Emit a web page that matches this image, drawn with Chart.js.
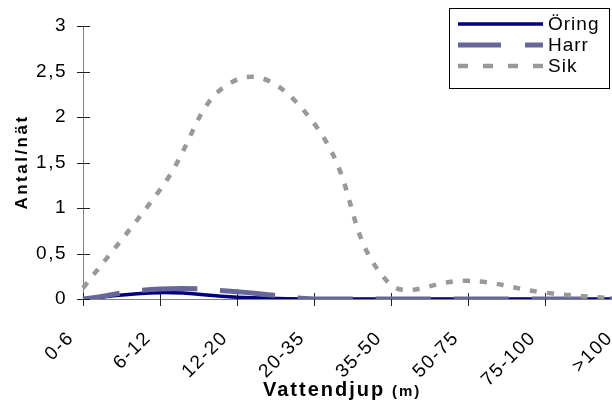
<!DOCTYPE html>
<html>
<head>
<meta charset="utf-8">
<script src="https://cdn.jsdelivr.net/npm/chart.js@4"></script>
<style>
  body { margin: 0; background: #fff; }
  #wrap { width: 612px; height: 400px; overflow: hidden; }
</style>
</head>
<body>
<div id="wrap"><canvas id="myChart" width="640" height="400"></canvas></div>
<script>
// Catch per net by depth class
const depths = ["0-6", "6-12", "12-20", "20-35", "35-50", "50-75", "75-100", ">100"];
const oring = [0, 0.07, 0.02, 0, 0, 0, 0, 0];
const harr = [0, 0.11, 0.08, 0, 0, 0, 0, 0];
const sik = [0.12, 1.2, 2.41, 1.93, 0.15, 0.2, 0.07, 0];

const FONT = "'Liberation Sans', Arial, sans-serif";

// cross tick marks, legend box and axis titles (drawn by hand like the Excel original)
const extras = {
  id: "extras",
  beforeDraw(chart) {
    chart.ctx.letterSpacing = "1.5px";
  },
  beforeDatasetsDraw(chart) {
    const ctx = chart.ctx;
    const x = chart.scales.x;
    const y = chart.scales.y;
    ctx.save();
    ctx.strokeStyle = "#222";
    ctx.lineWidth = 1;
    ctx.beginPath();
    for (let i = 0; i < x.ticks.length; i++) {
      const px = Math.round(x.getPixelForTick(i)) + 0.5;
      ctx.moveTo(px, y.bottom - 6);
      ctx.lineTo(px, y.bottom + 7);
    }
    for (let i = 0; i < y.ticks.length; i++) {
      const py = Math.round(y.getPixelForTick(i)) + 0.5;
      ctx.moveTo(x.left - 6, py);
      ctx.lineTo(x.left + 7, py);
    }
    ctx.stroke();
    ctx.restore();
  },
  afterDraw(chart) {
    const ctx = chart.ctx;
    ctx.save();

    // legend
    ctx.letterSpacing = "1px";
    ctx.strokeStyle = "#000";
    ctx.lineWidth = 1;
    ctx.strokeRect(449.5, 8.5, 160, 80);
    const rows = [24, 45, 66];
    chart.data.datasets.forEach((ds, i) => {
      ctx.save();
      ctx.strokeStyle = ds.borderColor;
      ctx.lineWidth = ds.borderWidth;
      ctx.setLineDash(ds.legendDash || []);
      ctx.beginPath();
      ctx.moveTo(458, rows[i]);
      ctx.lineTo(543, rows[i]);
      ctx.stroke();
      ctx.restore();
      ctx.fillStyle = "#000";
      ctx.font = "19px " + FONT;
      ctx.textBaseline = "middle";
      ctx.textAlign = "left";
      ctx.fillText(ds.label, 548, rows[i] + 1);
    });

    // x title
    ctx.fillStyle = "#000";
    ctx.textBaseline = "alphabetic";
    ctx.letterSpacing = "2px";
    ctx.font = "bold 20px " + FONT;
    ctx.fillText("Vattendjup", 263, 396);
    ctx.font = "bold 15px " + FONT;
    ctx.fillText("(m)", 392, 396);

    // y title
    ctx.translate(27, 162);
    ctx.rotate(-Math.PI / 2);
    ctx.textAlign = "center";
    ctx.letterSpacing = "2.5px";
    ctx.font = "bold 17px " + FONT;
    ctx.fillText("Antal/nät", 0, 0);
    ctx.restore();
  }
};

const ctx = document.getElementById("myChart").getContext("2d");
const chart = new Chart(ctx, {
  type: "line",
  data: {
    labels: depths,
    datasets: [
      {
        label: "Öring",
        data: oring,
        borderColor: "#000080",
        borderWidth: 3.5,
        order: 3,
      },
      {
        label: "Harr",
        data: harr,
        borderColor: "#666699",
        borderWidth: 5,
        borderDash: [55, 23],
        borderDashOffset: 18,
        legendDash: [43, 24],
        order: 2,
      },
      {
        label: "Sik",
        data: sik,
        borderColor: "#999999",
        borderWidth: 4.5,
        borderDash: [7, 10],
        legendDash: [10, 15],
        order: 1,
      },
    ],
  },
  options: {
    responsive: false,
    animation: false,
    layout: { padding: { top: 26, right: 18, left: 0, bottom: 0 } },
    elements: {
      point: { radius: 0 },
      line: { tension: 0.45, fill: false },
    },
    plugins: {
      legend: { display: false },
      tooltip: { enabled: false },
    },
    scales: {
      x: {
        offset: false,
        grid: { display: true, drawOnChartArea: false, drawTicks: false },
        border: { color: "#808080" },
        ticks: {
          autoSkip: false,
          minRotation: 45,
          maxRotation: 45,
          color: "#000",
          padding: 28,
          labelOffset: -12,
          font: { family: FONT, size: 19 },
        },
        afterFit: (s) => {
          s.height = 101;
          s.paddingLeft = 0;
          s.paddingRight = 0;
        },
      },
      y: {
        min: 0,
        max: 3,
        grid: { display: true, drawOnChartArea: false, drawTicks: false },
        border: { color: "#808080" },
        ticks: {
          stepSize: 0.5,
          color: "#000",
          padding: 16,
          font: { family: FONT, size: 19 },
          callback: (v) => String(v).replace(".", ","),
        },
        afterFit: (s) => {
          s.width = 83;
          s.paddingTop = 0;
          s.paddingBottom = 0;
        },
      },
    },
  },
  plugins: [extras],
});
</script>
</body>
</html>
